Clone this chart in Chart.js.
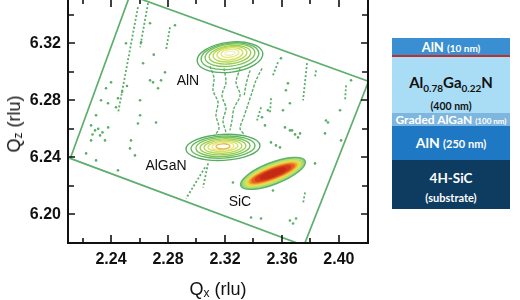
<!DOCTYPE html>
<html>
<head>
<meta charset="utf-8">
<script src="https://cdn.jsdelivr.net/npm/chart.js@4.4.0/dist/chart.umd.min.js"></script>
<style>
  body { margin: 0; width: 520px; height: 300px; background: #fff; position: relative; overflow: hidden;
         font-family: 'Liberation Sans', Arial, sans-serif; }
  #wrap { position: absolute; left: 0; top: -1px; width: 385px; height: 301px; }
  .ttl { position: absolute; font-size: 18px; color: #111; white-space: nowrap; text-align: center; }
  .ttl sub { font-size: 12px; position: relative; top: 2px; vertical-align: baseline; }
  #xt { left: 168px; width: 100px; top: 279px; height: 20px; line-height: 20px; }
  #yanchor { position: absolute; left: 15px; top: 124px; width: 0; height: 0; }
  #yt { left: 0; top: 0; line-height: 20px; transform: translate(-50%, -50%) rotate(-90deg); }
  #stack { position: absolute; left: 392px; top: 38px; width: 118px; height: 171px; font-family: Lato, 'Open Sans', sans-serif; font-weight: bold; }
  .ly { position: absolute; left: 0; width: 118px; text-align: center; white-space: nowrap; }
</style>
</head>
<body>
<div id="wrap"><canvas id="rsm" width="385" height="301"></canvas></div>
<div class="ttl" id="xt">Q<sub>x</sub> (rlu)</div>
<div id="yanchor"><div class="ttl" id="yt">Q<sub>z</sub> (rlu)</div></div>

<div id="stack">
  <div class="ly" style="top:0;height:17px;line-height:18px;background:#3a8fd2;color:#fff;font-size:13px">AlN <span style="font-size:10px">(10 nm)</span></div>
  <div class="ly" style="top:17px;height:2px;background:#c3302c"></div>
  <div class="ly" style="top:19px;height:56px;background:#a9dcf5;color:#111">
    <div style="font-size:15px;margin-top:16px;line-height:18px">Al<sub style="font-size:10px">0.78</sub>Ga<sub style="font-size:10px">0.22</sub>N</div>
    <div style="font-size:10.5px;margin-top:3px;line-height:13px">(400 nm)</div>
  </div>
  <div class="ly" style="top:75px;height:13px;line-height:13px;background:#7fb6dd;color:#fff;font-size:12px">Graded AlGaN <span style="font-size:8px">(100 nm)</span></div>
  <div class="ly" style="top:88px;height:34px;line-height:34px;background:#1f78c3;color:#fff;font-size:14px">AlN <span style="font-size:11px">(250 nm)</span></div>
  <div class="ly" style="top:122px;height:49px;background:#0e3b60;color:#fff">
    <div style="font-size:13.5px;margin-top:10px;line-height:16px">4H-SiC</div>
    <div style="font-size:11px;margin-top:5px;line-height:13px">(substrate)</div>
  </div>
</div>

<script>
// axis ticks (rlu)
const xMajor = [2.24, 2.28, 2.32, 2.36, 2.40];
const xMinor = [2.22, 2.26, 2.30, 2.34, 2.38];
const yMajor = [6.20, 6.24, 6.28, 6.32];
const yMinor = [6.22, 6.26, 6.30, 6.34];

// peaks
const peakNames = ['AlN', 'AlGaN', 'SiC'];
const labelQx = [2.2940, 2.2786, 2.3305];
const labelQz = [6.2933, 6.2337, 6.2084];
const peakQx = [2.3235, 2.3186, 2.3537];
const peakQz = [6.3130, 6.2477, 6.2288];
const peakTilt = [-7, -3, -21];

// contour rings, outer -> inner (half widths in rlu)
const alnRx = [0.0232, 0.0204, 0.0176, 0.0147, 0.0119, 0.0091, 0.0063, 0.0035];
const alnRy = [0.0105, 0.0091, 0.0077, 0.0063, 0.0053, 0.0042, 0.0028, 0.0014];
const alnDz = [0.0028, 0.0021, 0.0014, 0.0011, 0.0007, 0.0004, 0, 0];
const alganRx = [0.0260, 0.0225, 0.0190, 0.0161, 0.0133, 0.0105, 0.0077, 0.0049];
const alganRy = [0.0091, 0.0077, 0.0067, 0.0056, 0.0046, 0.0035, 0.0028, 0.0018];
const alganDz = [0.0007, 0.0005, 0.0004, 0.0003, 0.0002, 0, 0, 0];
const sicRx = [0.0242, 0.0222, 0.0203, 0.0188, 0.0174, 0.0158, 0.0132, 0.0095];
const sicRy = [0.0076, 0.0063, 0.0052, 0.0045, 0.0038, 0.0032, 0.0026, 0.0018];
const lineColors = ['#55ad62', '#66b85f', '#7fc35a', '#9bcd55', '#b8d856', '#d2e262', '#e6ea86', '#e9b64a'];
const alnColors  = ['#55ad62', '#66b85f', '#7fc35a', '#9bcd55', '#b8d856', '#d2e262', '#e6ea86', '#f2f0b8'];
const sicColors  = ['#8fcf78', '#b5de6a', '#dce65a', '#f2c83c', '#ee962e', '#e46022', '#d63a1a', '#c42a14'];

// scan boundary (rotated rectangle corners)
const boxQx = [2.2533, 2.4208, 2.3754, 2.2114, 2.2533];
const boxQz = [6.3537, 6.2933, 6.1782, 6.2393, 6.3537];

// dotted streaks, null = break
const streakQx = [2.2589, 2.2449, null, 2.2660, 2.2604, null, 2.2814, 2.2786, null, 2.3060, 2.2927, null,
                  2.3081, 2.3046, null, 2.3572, 2.3537, null, 2.3776, 2.3748, null, 2.4050, 2.4043, null,
                  2.3523, 2.3516, null, 2.3453, 2.3425, null, 2.3762, 2.3748, null, 2.3839, 2.3832];
const streakQz = [6.3453, 6.2709, null, 6.3481, 6.3172, null, 6.3312, 6.3151, null, 6.2330, 6.2112, null,
                  6.2358, 6.2189, null, 6.3067, 6.2975, null, 6.3060, 6.2800, null, 6.2905, 6.2800, null,
                  6.2814, 6.2709, null, 6.2751, 6.2659, null, 6.2154, 6.2077, null, 6.3010, 6.2961];

// noise between AlN and AlGaN
const neckQx = [2.3095, 2.3123, 2.3116, 2.3151, 2.3137, 2.3158, 2.3123, null,
                2.3460, 2.3418, 2.3390, 2.3362, 2.3334, 2.3306, 2.3334, null,
                2.3193, 2.3207, 2.3179, 2.3207, 2.3186, 2.3207, null,
                2.3306, 2.3278, 2.3306, 2.3263, 2.3249, 2.3235, null,
                2.3376, 2.3348, 2.3334];
const neckQz = [6.3039, 6.2954, 6.2870, 6.2786, 6.2695, 6.2603, 6.2547, null,
                6.3024, 6.2940, 6.2856, 6.2772, 6.2688, 6.2603, 6.2561, null,
                6.3024, 6.2926, 6.2835, 6.2744, 6.2659, 6.2575, null,
                6.3024, 6.2926, 6.2835, 6.2744, 6.2659, 6.2589, null,
                6.3010, 6.2912, 6.2828];

// scattered speckle
const dotQx = [2.2849, 2.2674, 2.2611, 2.2505, 2.2674, 2.2695, 2.2751, 2.2779, 2.2730, 2.2400, 2.2365, 2.2330,
               2.2449, 2.2435, 2.2379, 2.2295, 2.2604, 2.2604, 2.2260, 2.2288, 2.2323, 2.2358, 2.2260, 2.2540,
               2.2533, 2.2568, 2.2225, 2.2295, 2.2449, 2.2589, 2.2716, 2.3593, 2.3642, 2.3628, 2.3502, 2.3607,
               2.3909, 2.4008, 2.4085, 2.3621, 2.3656, 2.3692, 2.3713, 2.3523, 2.3558, 2.3923, 2.3902, 2.4015,
               2.3832, 2.3656, 2.3678, 2.3699, 2.3383, 2.3453, 2.3256, 2.3537, 2.3460, 2.3481, 2.3656, 2.3671,
               2.3727, 2.3586, 2.2310, 2.2340, 2.2270, 2.2380, 2.2478, 2.2512, 2.2625, 2.2700];
const dotQz = [6.3326, 6.3340, 6.3207, 6.3200, 6.2940, 6.2926, 6.2940, 6.2996, 6.2884, 6.2926, 6.2884, 6.2800,
               6.2814, 6.2751, 6.2779, 6.2695, 6.2800, 6.2695, 6.2624, 6.2589, 6.2554, 6.2519, 6.2519, 6.2519,
               6.2463, 6.2414, 6.2428, 6.2379, 6.2309, 6.2638, 6.2645, 6.3095, 6.2919, 6.2870, 6.2730, 6.2730,
               6.2659, 6.2730, 6.2940, 6.2610, 6.2589, 6.2561, 6.2540, 6.2505, 6.2484, 6.2645, 6.2568, 6.2519,
               6.2358, 6.1958, 6.1937, 6.1972, 6.1979, 6.1972, 6.2224, 6.2168, 6.2681, 6.2624, 6.2779, 6.2589,
               6.2568, 6.2470, 6.2600, 6.2575, 6.2560, 6.2610, 6.2860, 6.2900, 6.3060, 6.3120];

const pts = (xs, zs) => xs.map((v, i) => ({ x: v === null ? NaN : v, y: zs[i] === null ? NaN : zs[i] }));

const peaks = [
  { rx: alnRx,   ry: alnRy,   dz: alnDz,   colors: alnColors,  fill: false },
  { rx: alganRx, ry: alganRy, dz: alganDz, colors: lineColors, fill: false },
  { rx: sicRx,   ry: sicRy,   dz: sicRx.map(() => 0), colors: sicColors, fill: true }
];

const contourPlugin = {
  id: 'contours',
  afterDatasetsDraw(chart) {
    const { ctx, chartArea: a, scales: { x, y } } = chart;
    const kx = x.width / (x.max - x.min);
    const ky = y.height / (y.max - y.min);
    ctx.save();
    ctx.beginPath(); ctx.rect(a.left, a.top, a.width, a.height); ctx.clip();
    peaks.forEach((p, k) => {
      p.rx.forEach((r, i) => {
        const cx = x.getPixelForValue(peakQx[k]);
        const cy = y.getPixelForValue(peakQz[k] - p.dz[i]);
        ctx.beginPath();
        ctx.ellipse(cx, cy, r * kx, p.ry[i] * ky, peakTilt[k] * Math.PI / 180, 0, 2 * Math.PI);
        if (p.fill) { ctx.fillStyle = p.colors[i]; ctx.fill(); }
        ctx.strokeStyle = i === 0 && p.fill ? '#5db36a' : p.colors[i];
        ctx.lineWidth = 1.4;
        ctx.stroke();
      });
    });
    // peak names
    ctx.fillStyle = '#111';
    ctx.font = '14px "Liberation Sans", Arial, sans-serif';
    ctx.textAlign = 'center'; ctx.textBaseline = 'middle';
    peakNames.forEach((n, i) => ctx.fillText(n, x.getPixelForValue(labelQx[i]), y.getPixelForValue(labelQz[i])));
    ctx.restore();
  }
};

// frame with inward ticks on all four sides
const framePlugin = {
  id: 'frame',
  afterDraw(chart) {
    const { ctx, chartArea: a, scales: { x, y } } = chart;
    ctx.save();
    ctx.strokeStyle = '#111';
    ctx.lineWidth = 1.6;
    ctx.beginPath();
    const xt = (vals, len) => vals.forEach(v => {
      const px = Math.round(x.getPixelForValue(v));
      ctx.moveTo(px, a.bottom); ctx.lineTo(px, a.bottom - len);
      ctx.moveTo(px, a.top); ctx.lineTo(px, a.top + len);
    });
    const yt = (vals, len) => vals.forEach(v => {
      const py = Math.round(y.getPixelForValue(v));
      ctx.moveTo(a.left, py); ctx.lineTo(a.left + len, py);
      ctx.moveTo(a.right, py); ctx.lineTo(a.right - len, py);
    });
    xt(xMajor, 8); xt(xMinor, 5);
    yt(yMajor, 7); yt(yMinor, 6);
    ctx.stroke();
    ctx.lineWidth = 2;
    ctx.strokeRect(a.left, a.top, a.width, a.height);
    ctx.restore();
  }
};

const green = '#5aae68';
const tickFont = { family: '"Liberation Sans", Arial, sans-serif', size: 16, weight: 'bold' };

new Chart(document.getElementById('rsm'), {
  type: 'scatter',
  data: {
    datasets: [
      { data: pts(boxQx, boxQz), showLine: true, borderColor: '#5caf6c', borderWidth: 1.7,
        pointRadius: 0, clip: 0 },
      { data: pts(streakQx, streakQz), showLine: true, spanGaps: false, borderColor: green, borderWidth: 1.8,
        borderDash: [2, 2], pointRadius: 0, clip: 0 },
      { data: pts(neckQx, neckQz), showLine: true, spanGaps: false, borderColor: green, borderWidth: 1.4,
        borderDash: [3, 1.5], pointRadius: 0, tension: 0.3, clip: 0 },
      { data: pts(dotQx, dotQz), showLine: false, pointRadius: 1.3, pointBackgroundColor: green,
        pointBorderWidth: 0, clip: 0 }
    ]
  },
  options: {
    responsive: false,
    animation: false,
    layout: { autoPadding: false, padding: { left: 0, right: 17, top: 0, bottom: 0 } },
    plugins: { legend: { display: false }, tooltip: { enabled: false } },
    scales: {
      x: {
        type: 'linear', min: 2.2098, max: 2.4204,
        grid: { display: false, drawTicks: false }, border: { display: false },
        afterBuildTicks: s => { s.ticks = xMajor.map(v => ({ value: v })); },
        afterFit: s => { s.height = 57; s.paddingLeft = 0; s.paddingRight = 0; },
        ticks: { padding: 7, color: '#111', maxRotation: 0, font: tickFont, callback: v => v.toFixed(2) }
      },
      y: {
        type: 'linear', min: 6.18, max: 6.351,
        grid: { display: false, drawTicks: false }, border: { display: false },
        afterBuildTicks: s => { s.ticks = yMajor.map(v => ({ value: v })); },
        afterFit: s => { s.width = 68; s.paddingTop = 0; s.paddingBottom = 0; },
        ticks: { padding: 7, color: '#111', font: tickFont, callback: v => v.toFixed(2) }
      }
    }
  },
  plugins: [contourPlugin, framePlugin]
});
</script>
</body>
</html>
